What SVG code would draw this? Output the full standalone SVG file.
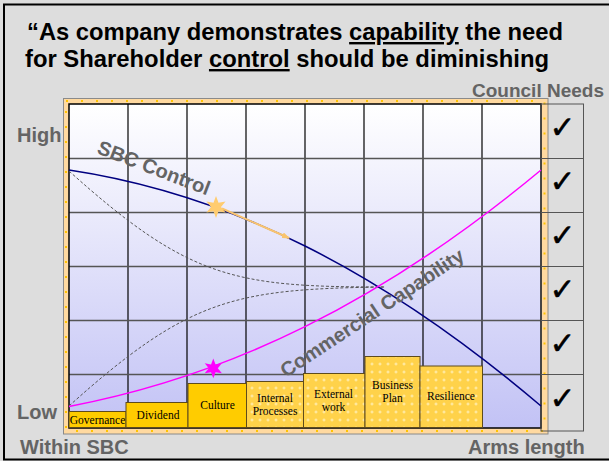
<svg xmlns="http://www.w3.org/2000/svg" width="609" height="461" viewBox="0 0 609 461">
<defs>
<linearGradient id="bg" x1="0" y1="0" x2="0" y2="1"><stop offset="0" stop-color="#ffffff"/><stop offset="1" stop-color="#c2c2f5"/></linearGradient>
<pattern id="dots" width="8" height="8" patternUnits="userSpaceOnUse"><rect width="8" height="8" fill="#ffd24a"/><path d="M4 2.5v3M2.5 4h3" stroke="#fff0b8" stroke-width="1"/></pattern>
<marker id="arr" markerWidth="8" markerHeight="6" refX="7" refY="3" orient="auto" markerUnits="userSpaceOnUse"><path d="M0,0 L8,3 L0,6 z" fill="#f9c46e"/></marker>
<path id="star6" d="M0,-11 L2.5,-4.33 L9.53,-5.5 L5,0 L9.53,5.5 L2.5,4.33 L0,11 L-2.5,4.33 L-9.53,5.5 L-5,0 L-9.53,-5.5 L-2.5,-4.33 Z"/>
</defs>
<style>
.t{font-family:"Liberation Sans",Arial,sans-serif;font-weight:bold}
.g{fill:#646464;font-size:20px}
.bar{stroke:#5e4b1c;stroke-width:1}
.solid{fill:#ffcc00}
.pat{fill:url(#dots)}
.bl{font-family:"Liberation Serif","Times New Roman",serif;font-size:11.5px;fill:#000;text-anchor:middle}
.hl{stroke:#555;stroke-width:1.5}
.vl{stroke:#000;stroke-width:1.2}
.chk{font-family:"DejaVu Sans",sans-serif;font-size:31px;text-anchor:middle;fill:#000;stroke:#000;stroke-width:0.5}
.box{fill:none;stroke:#555;stroke-width:1}
</style>
<rect x="0" y="0" width="609" height="461" fill="#dddddd"/>
<rect x="4" y="4.5" width="640" height="455" fill="none" stroke="#000" stroke-width="2"/>

<g id="title">
<text class="t" x="27" y="40" font-size="24" fill="#000" textLength="536" lengthAdjust="spacingAndGlyphs">“As company demonstrates <tspan text-decoration="underline">capability</tspan> the need</text>
<text class="t" x="25" y="67" font-size="24" fill="#000" textLength="524" lengthAdjust="spacingAndGlyphs">for Shareholder <tspan text-decoration="underline">control</tspan> should be diminishing</text>
</g>

<g id="axis-labels">
<text class="t" x="472" y="97" fill="#646464" font-size="19">Council Needs</text>
<text class="t g" x="17" y="141.5">High</text>
<text class="t g" x="17" y="419">Low</text>
<text class="t g" x="20" y="454">Within SBC</text>
<text class="t g" x="468" y="454">Arms length</text>
</g>

<g id="chart">
<rect x="63.5" y="98.5" width="484.5" height="335.5" fill="#ffd9a0" stroke="#8a8a8a"/>
<rect x="66" y="101" width="478.5" height="330" fill="none" stroke="#ffc400" stroke-width="2" stroke-dasharray="2 13"/>
<rect x="69" y="104" width="472" height="324" fill="url(#bg)"/>
<g>
<line class="vl" x1="128" y1="104" x2="128" y2="428"/>
<line class="vl" x1="187" y1="104" x2="187" y2="428"/>
<line class="vl" x1="246" y1="104" x2="246" y2="428"/>
<line class="vl" x1="305" y1="104" x2="305" y2="428"/>
<line class="vl" x1="364" y1="104" x2="364" y2="428"/>
<line class="vl" x1="423" y1="104" x2="423" y2="428"/>
<line class="vl" x1="482" y1="104" x2="482" y2="428"/>
<line class="hl" x1="69" y1="158.5" x2="541" y2="158.5"/>
<line class="hl" x1="69" y1="212.5" x2="541" y2="212.5"/>
<line class="hl" x1="69" y1="266.5" x2="541" y2="266.5"/>
<line class="hl" x1="69" y1="320.5" x2="541" y2="320.5"/>
<line class="hl" x1="69" y1="374.5" x2="541" y2="374.5"/>
</g>
<rect x="69" y="104" width="472" height="324" fill="none" stroke="#000" stroke-width="1.5"/>
</g>

<g id="checks">
<rect class="box" x="541" y="104" width="42.5" height="54.5"/>
<rect class="box" x="541" y="158.5" width="42.5" height="54"/>
<rect class="box" x="541" y="212.5" width="42.5" height="54"/>
<rect class="box" x="541" y="266.5" width="42.5" height="54"/>
<rect class="box" x="541" y="320.5" width="42.5" height="54"/>
<rect class="box" x="541" y="374.5" width="42.5" height="56.5"/>
<text class="chk" x="562.5" y="138">✓</text>
<text class="chk" x="562.5" y="192">✓</text>
<text class="chk" x="562.5" y="246">✓</text>
<text class="chk" x="562.5" y="300">✓</text>
<text class="chk" x="562.5" y="354">✓</text>
<text class="chk" x="562.5" y="409">✓</text>
</g>

<g id="governance"><rect class="bar solid" x="69" y="411.5" width="57" height="16"/><text class="bl" x="97.5" y="423.5">Governance</text></g>
<g id="dividend"><rect class="bar solid" x="126" y="402.5" width="62" height="25"/><text class="bl" x="158" y="418.5">Dividend</text></g>
<g id="culture"><rect class="bar solid" x="188" y="383.5" width="58.5" height="44"/><text class="bl" x="217.5" y="408.5">Culture</text></g>
<g id="internal-processes"><rect class="bar pat" x="246.5" y="381.5" width="57" height="46"/><text class="bl" x="275" y="401.5">Internal</text><text class="bl" x="275" y="415">Processes</text></g>
<g id="external-work"><rect class="bar pat" x="303.5" y="373.5" width="61.5" height="54"/><text class="bl" x="333.5" y="397.5">External</text><text class="bl" x="333.5" y="410.5">work</text></g>
<g id="business-plan"><rect class="bar pat" x="365" y="356.5" width="55" height="71"/><text class="bl" x="392.5" y="388.5">Business</text><text class="bl" x="392.5" y="402">Plan</text></g>
<g id="resilience"><rect class="bar pat" x="420" y="366" width="62.5" height="61.5"/><text class="bl" x="451" y="400">Resilience</text></g>

<g id="connectors" fill="none">
<path d="M69,171 C189,279 235,287 385,287" stroke="#555" stroke-width="1" stroke-dasharray="3 2"/>
<path d="M69,406 C189,298 235,289 385,287" stroke="#555" stroke-width="1" stroke-dasharray="3 2"/>
<path d="M69,170 C229,194 381,270 541,406" stroke="#000080" stroke-width="1.5"/>
<path d="M69,406.5 C229,376 381,303 541,170" stroke="#ff00ff" stroke-width="1.5"/>
<line x1="222" y1="208.5" x2="289" y2="238" stroke="#f9c46e" stroke-width="2" marker-end="url(#arr)"/>
</g>

<g id="sbc-control">
<text class="t g" transform="translate(96,153) rotate(21)">SBC Control</text>
<use href="#star6" transform="translate(216,207)" fill="#ffcc70"/>
</g>
<g id="commercial-capability">
<text class="t g" transform="translate(286,378) rotate(-33.5)">Commercial Capability</text>
<use href="#star6" transform="translate(213.3,368.3) scale(0.9)" fill="#ff00ff"/>
</g>
</svg>
